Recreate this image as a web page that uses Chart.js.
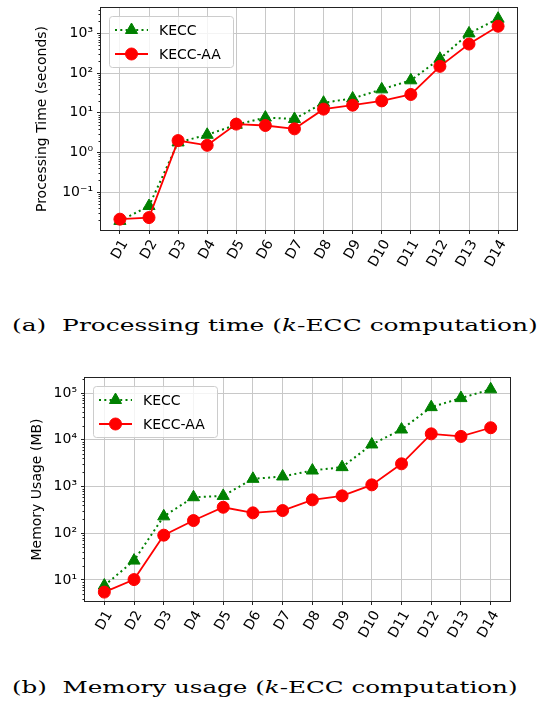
<!DOCTYPE html>
<html>
<head>
<meta charset="utf-8">
<script src="https://cdn.jsdelivr.net/npm/chart.js@4.4.1/dist/chart.umd.min.js"></script>
<style>
  html, body { margin: 0; padding: 0; background: #fff; }
  body { width: 542px; height: 712px; position: relative; overflow: hidden; }
  .panel { position: absolute; left: 0; }
  .caption {
    position: absolute;
    white-space: nowrap;
    font-family: 'DejaVu Serif', serif;
    font-size: 17px;
    line-height: 1;
    color: #000;
    transform-origin: 0 50%;
  }
</style>
</head>
<body>
<div class="panel" style="top:0px"><canvas id="timeChart" width="542" height="290"></canvas></div>
<div class="caption" id="captionA" data-width="526" style="left:12px; top:317px">(a)&nbsp; Processing time (<i>k</i>-ECC computation)</div>
<div class="panel" style="top:360px"><canvas id="memoryChart" width="542" height="300"></canvas></div>
<div class="caption" id="captionB" data-width="505" style="left:12px; top:679px">(b)&nbsp; Memory usage (<i>k</i>-ECC computation)</div>

<script>
const categories = ['D1', 'D2', 'D3', 'D4', 'D5', 'D6', 'D7', 'D8', 'D9', 'D10', 'D11', 'D12', 'D13', 'D14'];

// processing time in seconds
const timeKecc = [0.019, 0.045, 1.8, 2.8, 5.0, 7.6, 7.0, 18, 23, 39, 66, 230, 1000, 2350];
const timeKeccAa = [0.021, 0.023, 2.0, 1.52, 5.2, 4.8, 3.95, 12.4, 15.6, 20, 29, 148, 540, 1520];

// memory usage in MB
const memoryKecc = [7.6, 26, 230, 590, 630, 1460, 1640, 2200, 2600, 7950, 16600, 50000, 78000, 120000];
const memoryKeccAa = [5.5, 10.2, 91, 187, 360, 273, 306, 518, 631, 1085, 3060, 13400, 11800, 18100];

// labelled decades on each y axis
const timeTickExponents = [-1, 0, 1, 2, 3];
const memoryTickExponents = [1, 2, 3, 4, 5];

const gridColor = '#c8c8c8';
const fontFamily = "'DejaVu Sans', sans-serif";
const superDigits = { '-': '\u207B', '0': '\u2070', '1': '\u00B9', '2': '\u00B2', '3': '\u00B3', '4': '\u2074', '5': '\u2075' };

const isPowerOfTen = (value) => {
  const exp = Math.round(Math.log10(value));
  return Math.abs(value - Math.pow(10, exp)) < value * 1e-9;
};

const powerLabel = (exp) => '10' + String(exp).split('').map((c) => superDigits[c]).join('');

// Log ticks: 1..9 times each power of ten inside the axis range.
const buildLogTicks = (scale) => {
  const ticks = [];
  const lo = Math.floor(Math.log10(scale.min));
  const hi = Math.ceil(Math.log10(scale.max));
  for (let e = lo; e <= hi; e++) {
    for (let m = 1; m <= 9; m++) {
      const value = Number((m * Math.pow(10, e)).toPrecision(6));
      if (value >= scale.min && value <= scale.max) {
        ticks.push({ value, major: m === 1 });
      }
    }
  }
  scale.ticks = ticks;
};

// Frame around the plot area and the short minor ticks on the log axis.
const framePlugin = {
  id: 'frame',
  afterDatasetsDraw(chart) {
    const { ctx, chartArea } = chart;
    const yScale = chart.scales.y;
    ctx.save();
    ctx.strokeStyle = '#222';
    ctx.lineWidth = 1;
    ctx.beginPath();
    yScale.ticks.forEach((tick) => {
      if (isPowerOfTen(tick.value)) {
        return;
      }
      const y = Math.round(yScale.getPixelForValue(tick.value)) + 0.5;
      ctx.moveTo(chartArea.left - 2.5, y);
      ctx.lineTo(chartArea.left, y);
    });
    ctx.stroke();
    ctx.strokeRect(chartArea.left - 0.5, chartArea.top - 0.5,
      chartArea.right - chartArea.left + 1, chartArea.bottom - chartArea.top + 1);
    ctx.restore();
  }
};

// Matplotlib-like legend box in the upper left corner of the plot area.
const cornerLegend = {
  id: 'cornerLegend',
  afterDatasetsDraw(chart) {
    const { ctx, chartArea } = chart;
    const x0 = chartArea.left + 8;
    const y0 = chartArea.top + 8;
    ctx.save();
    ctx.beginPath();
    ctx.roundRect(x0 + 0.5, y0 + 0.5, 124, 51, 3);
    ctx.fillStyle = 'rgba(255,255,255,0.8)';
    ctx.fill();
    ctx.strokeStyle = '#cccccc';
    ctx.lineWidth = 1;
    ctx.stroke();

    chart.data.datasets.forEach((ds, i) => {
      const y = y0 + 14 + i * 24;
      const lx = x0 + 6;
      const lx2 = x0 + 39;
      ctx.beginPath();
      ctx.setLineDash(ds.borderDash || []);
      ctx.strokeStyle = ds.borderColor;
      ctx.lineWidth = ds.borderWidth;
      ctx.moveTo(lx, y);
      ctx.lineTo(lx2, y);
      ctx.stroke();
      ctx.setLineDash([]);

      ctx.fillStyle = ds.pointBackgroundColor;
      ctx.strokeStyle = ds.pointBorderColor;
      ctx.lineWidth = 1;
      Chart.helpers.drawPoint(ctx, {
        pointStyle: ds.pointStyle, radius: ds.pointRadius, rotation: 0, borderWidth: 1
      }, (lx + lx2) / 2, y);

      ctx.fillStyle = '#000';
      ctx.font = '14px ' + fontFamily;
      ctx.textAlign = 'left';
      ctx.textBaseline = 'middle';
      ctx.fillText(ds.label, x0 + 50, y + 1);
    });
    ctx.restore();
  }
};

const toPoints = (values) => values.map((v, i) => ({ x: i, y: v }));

const createConfig = ({ kecc, keccAa, yMin, yMax, exponents, yTitle, yWidth, titlePad, xHeight, padding }) => ({
  type: 'line',
  data: {
    datasets: [{
      label: 'KECC',
      data: toPoints(kecc),
      borderColor: 'green',
      borderWidth: 2,
      borderDash: [2, 3.3],
      pointStyle: 'triangle',
      pointRadius: 7,
      pointBackgroundColor: 'green',
      pointBorderColor: 'green',
      pointBorderWidth: 1,
      order: 2
    }, {
      label: 'KECC-AA',
      data: toPoints(keccAa),
      borderColor: 'red',
      borderWidth: 1.8,
      pointStyle: 'circle',
      pointRadius: 6,
      pointBackgroundColor: 'red',
      pointBorderColor: 'red',
      pointBorderWidth: 1,
      order: 1
    }]
  },
  options: {
    responsive: false,
    animation: false,
    devicePixelRatio: 1,
    layout: { padding },
    elements: { line: { tension: 0 } },
    plugins: {
      legend: { display: false },
      tooltip: { enabled: false }
    },
    scales: {
      x: {
        type: 'linear',
        min: -0.65,
        max: categories.length - 1 + 0.65,
        afterBuildTicks: (scale) => {
          scale.ticks = categories.map((_, i) => ({ value: i }));
        },
        afterFit: (scale) => {
          scale.height = xHeight;
          scale.paddingLeft = 0;
          scale.paddingRight = 0;
        },
        border: { display: false },
        grid: { color: gridColor, lineWidth: 1, tickColor: '#222', tickLength: 4 },
        ticks: {
          autoSkip: false,
          maxRotation: 60,
          minRotation: 60,
          padding: 3,
          labelOffset: 5,
          color: '#000',
          font: { family: fontFamily, size: 14 },
          callback: (value) => categories[value] ?? ''
        }
      },
      y: {
        type: 'logarithmic',
        min: yMin,
        max: yMax,
        afterBuildTicks: buildLogTicks,
        afterFit: (scale) => {
          scale.width = yWidth;
          scale.paddingTop = 0;
          scale.paddingBottom = 0;
        },
        border: { display: false },
        grid: {
          lineWidth: 1,
          tickLength: 4,
          color: (ctx) => (ctx.tick && isPowerOfTen(ctx.tick.value) ? gridColor : 'rgba(0,0,0,0)'),
          tickColor: (ctx) => (ctx.tick && isPowerOfTen(ctx.tick.value) ? '#222' : 'rgba(0,0,0,0)')
        },
        title: {
          display: true,
          text: yTitle,
          color: '#000',
          font: { family: fontFamily, size: 14 },
          padding: { top: titlePad, bottom: 0 }
        },
        ticks: {
          autoSkip: false,
          padding: 4,
          color: '#000',
          font: { family: fontFamily, size: 14 },
          callback: (value) => {
            if (!isPowerOfTen(value)) {
              return '';
            }
            const exp = Math.round(Math.log10(value));
            return exponents.includes(exp) ? powerLabel(exp) : '';
          }
        }
      }
    }
  },
  plugins: [framePlugin, cornerLegend]
});

new Chart(document.getElementById('timeChart'), createConfig({
  kecc: timeKecc,
  keccAa: timeKeccAa,
  yMin: 0.0112,
  yMax: 4370,
  exponents: timeTickExponents,
  yTitle: 'Processing Time (seconds)',
  yWidth: 101,
  titlePad: 34,
  xHeight: 60,
  padding: { top: 6, right: 25, bottom: 0, left: 0 }
}));

new Chart(document.getElementById('memoryChart'), createConfig({
  kecc: memoryKecc,
  keccAa: memoryKeccAa,
  yMin: 3.55,
  yMax: 210000,
  exponents: memoryTickExponents,
  yTitle: 'Memory Usage (MB)',
  yWidth: 85,
  titlePad: 29,
  xHeight: 59,
  padding: { top: 18, right: 32, bottom: 0, left: 0 }
}));

// Stretch captions to the width they take in the reference.
document.querySelectorAll('.caption').forEach((el) => {
  const target = Number(el.dataset.width);
  el.style.transform = `scaleX(${target / el.offsetWidth})`;
});
</script>
</body>
</html>
